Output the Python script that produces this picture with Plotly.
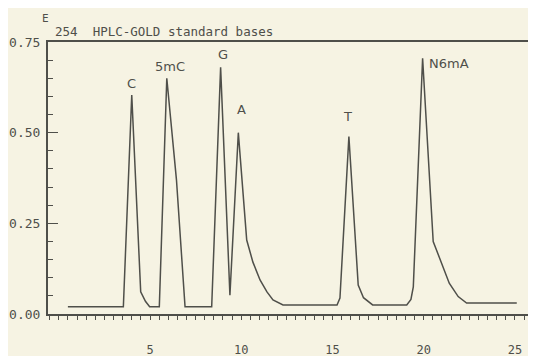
import plotly.graph_objects as go

# ---- data ----
time_min = [0.5, 3.54, 4.0, 4.49, 4.75, 4.98, 5.51, 5.92, 6.45, 6.92,
            8.38, 8.87, 9.38, 9.84, 10.3, 10.64, 11.03, 11.41, 11.74, 12.29,
            15.25, 15.41, 15.9, 16.41, 16.7, 17.2,
            19.07, 19.3, 19.43, 19.94, 20.52, 21.07, 21.4, 21.89, 22.35, 25.1]
absorbance = [0.02, 0.02, 0.604, 0.061, 0.035, 0.02, 0.02, 0.65, 0.37, 0.02,
              0.02, 0.68, 0.052, 0.50, 0.204, 0.143, 0.094, 0.061, 0.039, 0.025,
              0.025, 0.044, 0.489, 0.08, 0.045, 0.025,
              0.025, 0.04, 0.075, 0.705, 0.20, 0.13, 0.085, 0.048, 0.03, 0.03]

peak_labels = ["C", "5mC", "G", "A", "T", "N6mA"]
peak_times = [4.0, 5.92, 8.87, 9.84, 15.9, 19.94]
peak_heights = [0.604, 0.65, 0.68, 0.50, 0.489, 0.705]

x_tick_vals = [5, 10, 15, 20, 25]
y_tick_vals = [0.0, 0.25, 0.50, 0.75]
y_tick_text = ["0.00", "0.25", "0.50", "0.75"]

title_unit = "E"
title_text = "254  HPLC-GOLD standard bases"

# ---- style ----
ink = "#4f4f4a"
paper_bg = "#f6f3e3"
mono = "DejaVu Sans Mono"
sans = "DejaVu Sans"

fig = go.Figure()
fig.add_trace(go.Scatter(x=time_min, y=absorbance, mode="lines",
                         line=dict(color=ink, width=1.5), hoverinfo="skip",
                         showlegend=False))

label_shift = {  # (xshift, yshift, xanchor, yanchor)
    "C": (0, 2, "center", "bottom"),
    "5mC": (3, 2, "center", "bottom"),
    "G": (2, 3, "center", "bottom"),
    "A": (3, 14, "center", "bottom"),
    "T": (-1, 11, "center", "bottom"),
    "N6mA": (4, -5, "left", "middle"),
}
for lab, t, h in zip(peak_labels, peak_times, peak_heights):
    xs, ys, xa, ya = label_shift[lab]
    fig.add_annotation(x=t, y=h, text=lab, showarrow=False, xshift=xs, yshift=ys,
                       xanchor=xa, yanchor=ya,
                       font=dict(family=sans, size=13, color=ink))

fig.add_annotation(xref="paper", yref="paper", x=-0.006, y=1.088, text=title_unit,
                   showarrow=False, xanchor="center", yanchor="middle",
                   font=dict(family=mono, size=11, color=ink))
fig.add_annotation(xref="paper", yref="paper", x=0.01, y=1.037, text=title_text,
                   showarrow=False, xanchor="left", yanchor="middle",
                   font=dict(family=mono, size=12.5, color=ink))

# the page body adds an 8 px offset; margins compensate for it
fig.update_layout(
    width=536, height=356,
    margin=dict(l=40, r=13, t=34, b=50, autoexpand=False),
    paper_bgcolor=paper_bg, plot_bgcolor=paper_bg,
    font=dict(family=mono, color=ink, size=13),
)
fig.update_xaxes(range=[-0.59, 25.88], showgrid=False, zeroline=False,
                 automargin=False,
                 showline=True, linecolor=ink, linewidth=2, mirror=True,
                 tickvals=x_tick_vals, ticks="outside", ticklen=4, tickcolor=ink,
                 tickwidth=1, ticklabelstandoff=20,
                 minor=dict(dtick=0.5, tick0=0, ticks="outside", ticklen=4,
                            tickcolor=ink, tickwidth=1),
                 tickfont=dict(family=mono, size=12, color=ink))
fig.update_yaxes(range=[0, 0.75], showgrid=False, zeroline=False,
                 automargin=False,
                 showline=True, linecolor=ink, linewidth=2, mirror=True,
                 tickvals=y_tick_vals, ticktext=y_tick_text,
                 ticks="inside", ticklen=10, tickcolor=ink, tickwidth=1,
                 ticklabelstandoff=3,
                 minor=dict(dtick=0.05, tick0=0, ticks="inside", ticklen=5,
                            tickcolor=ink, tickwidth=1),
                 tickfont=dict(family=mono, size=13, color=ink))

fig.write_html("out.html")
